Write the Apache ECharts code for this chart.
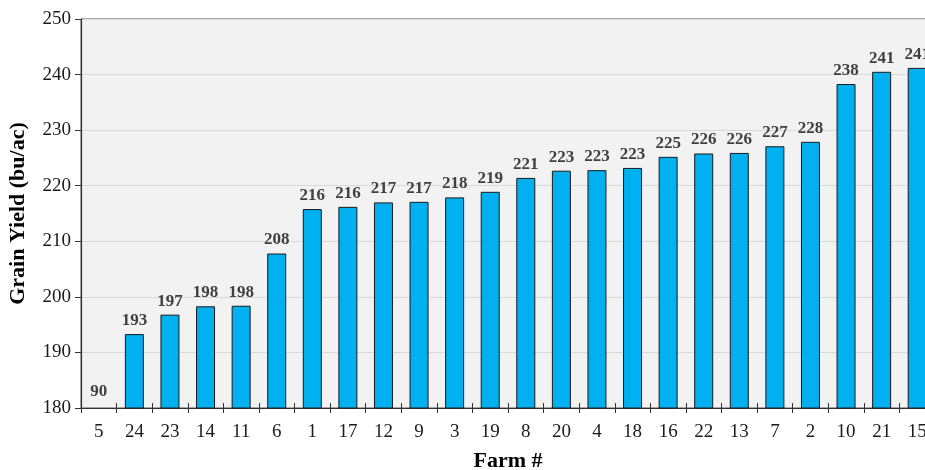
<!DOCTYPE html>
<html>
<head>
<meta charset="utf-8">
<script src="https://cdn.jsdelivr.net/npm/echarts@6/dist/echarts.min.js"></script>
<style>
  html, body { margin: 0; padding: 0; background: #fff; }
  #chart { width: 925px; height: 470px; }
</style>
</head>
<body>
<div id="chart"></div>
<script>
// farms sorted by yield
const farms = ['5', '24', '23', '14', '11', '6', '1', '17', '12', '9', '3', '19', '8', '20', '4', '18', '16', '22', '13', '7', '2', '10', '21', '15']
const yields = [90, 193.3, 196.8, 198.3, 198.4, 207.8, 215.8, 216.2, 217.0, 217.1, 217.9, 218.9, 221.4, 222.7, 222.8, 223.2, 225.2, 225.8, 225.9, 227.1, 227.9, 238.3, 240.5, 241.2]
const yMin = 180
const yMax = 250

const serif = '"Liberation Serif", "DejaVu Serif", serif'

// values below the axis minimum sit on the axis, but keep their real label
const barData = yields.map(v => {
  if (v < yMin) {
    return {
      value: yMin,
      itemStyle: { borderWidth: 0, color: 'transparent' },
      label: { formatter: String(Math.round(v)), distance: 8 }
    }
  }
  return v
})

const chart = echarts.init(document.getElementById('chart'))
chart.setOption({
  animation: false,
  grid: {
    left: 81, top: 19, bottom: 62, right: -10,
    outerBoundsMode: 'none',
    containLabel: false,
    show: true,
    backgroundColor: '#F2F2F2',
    borderColor: '#595959',
    borderWidth: 1
  },
  xAxis: [{
    type: 'category',
    data: farms,
    name: 'Farm #',
    nameLocation: 'middle',
    nameGap: 42,
    nameTextStyle: { fontFamily: serif, fontSize: 22, fontWeight: 'bold', color: '#000' },
    axisLine: { lineStyle: { color: '#333', width: 1.2 } },
    axisTick: { show: true, length: 5, lineStyle: { color: '#333' } },
    axisLabel: { fontFamily: serif, fontSize: 19, color: '#1a1a1a', margin: 15 }
  }, {
    type: 'category',
    data: farms,
    position: 'bottom',
    axisLine: { show: false },
    axisTick: { show: true, inside: true, length: 5, lineStyle: { color: '#333' } },
    axisLabel: { show: false }
  }],
  yAxis: {
    type: 'value',
    min: yMin,
    max: yMax,
    interval: 10,
    name: 'Grain Yield (bu/ac)',
    nameLocation: 'middle',
    nameRotate: 90,
    nameGap: 52,
    nameTextStyle: { fontFamily: serif, fontSize: 22, fontWeight: 'bold', color: '#000' },
    axisLine: { show: true, lineStyle: { color: '#333', width: 1.2 } },
    axisTick: { show: true, length: 6, lineStyle: { color: '#333' } },
    axisLabel: { fontFamily: serif, fontSize: 19, color: '#1a1a1a', margin: 10 },
    splitLine: { lineStyle: { color: '#D9D9D9' } }
  },
  series: [{
    type: 'bar',
    data: barData,
    barWidth: 19,
    itemStyle: { color: '#00B0F0', borderColor: '#1a1a1a', borderWidth: 1 },
    label: {
      show: true,
      position: 'top',
      distance: 5,
      fontFamily: serif,
      fontSize: 17,
      fontWeight: 'bold',
      color: '#404040',
      formatter: p => Math.round(p.value)
    }
  }]
})
</script>
</body>
</html>
